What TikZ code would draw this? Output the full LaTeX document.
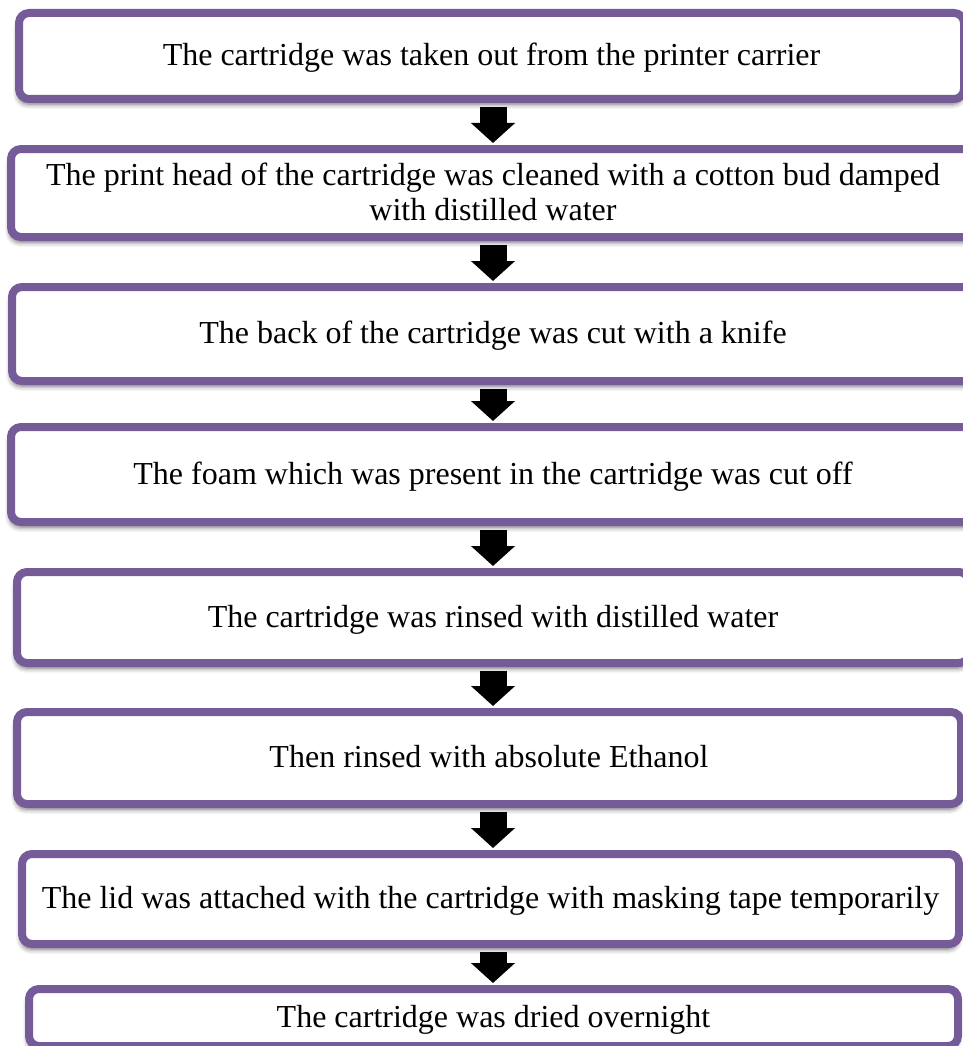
\documentclass[tikz,border=0pt]{standalone}
\usepackage{fontspec}
\setmainfont{Liberation Serif}
\usetikzlibrary{arrows.meta,shadows.blur}
\definecolor{boxpurple}{RGB}{117,91,152}
\begin{document}
\begin{tikzpicture}[x=1pt,y=-1pt,
  stepbox/.style={draw=boxpurple, line width=8pt, fill=white, rounded corners=10pt,
    align=center, inner sep=0pt, text depth=3pt, font=\fontsize{32}{35}\selectfont,
    blur shadow={shadow xshift=-1pt, shadow yshift=-5pt, shadow blur radius=5pt, shadow opacity=60}},
  flowarrow/.style={line width=27pt, -{Triangle[width=43pt,length=20pt]},
    shorten <=4pt, shorten >=2pt, draw=black}]
\useasboundingbox (0,0) rectangle (963,1046);
\clip (0,0) rectangle (963,1046);
\coordinate (ax) at (493,0);
\node[stepbox, minimum width=945pt, minimum height=86pt] (b1) at (491.5,56)
  {The cartridge was taken out from the printer carrier};
\node[stepbox, minimum width=964pt, minimum height=88pt] (b2) at (493,193)
  {The print head of the cartridge was cleaned with a cotton bud damped\\with distilled water};
\node[stepbox, minimum width=962pt, minimum height=94pt] (b3) at (493,334)
  {The back of the cartridge was cut with a knife};
\node[stepbox, minimum width=964pt, minimum height=95pt] (b4) at (493,474.5)
  {The foam which was present in the cartridge was cut off};
\node[stepbox, minimum width=952pt, minimum height=91pt] (b5) at (493,617.5)
  {The cartridge was rinsed with distilled water};
\node[stepbox, minimum width=944pt, minimum height=92pt] (b6) at (489,758)
  {Then rinsed with absolute Ethanol};
\node[stepbox, minimum width=937pt, minimum height=90pt] (b7) at (490.5,899)
  {The lid was attached with the cartridge with masking tape temporarily};
\node[stepbox, minimum width=929pt, minimum height=57pt] (b8) at (493.5,1017.5)
  {The cartridge was dried overnight};
\draw[flowarrow] (b1.south -| ax) -- (b2.north -| ax);
\draw[flowarrow] (b2.south -| ax) -- (b3.north -| ax);
\draw[flowarrow] (b3.south -| ax) -- (b4.north -| ax);
\draw[flowarrow] (b4.south -| ax) -- (b5.north -| ax);
\draw[flowarrow] (b5.south -| ax) -- (b6.north -| ax);
\draw[flowarrow] (b6.south -| ax) -- (b7.north -| ax);
\draw[flowarrow] (b7.south -| ax) -- (b8.north -| ax);
\end{tikzpicture}
\end{document}
